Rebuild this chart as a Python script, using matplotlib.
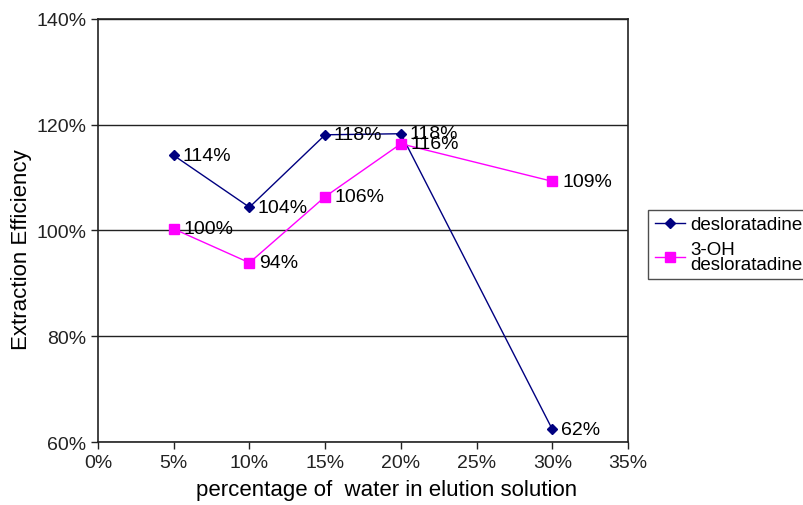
import matplotlib.pyplot as plt
from matplotlib.ticker import PercentFormatter

plt.rcParams['font.family'] = ['Liberation Sans', 'DejaVu Sans']

# water content of elution solution (%) and extraction efficiency (%)
water = [5, 10, 15, 20, 30]
deslor = [114.2, 104.4, 118.1, 118.3, 62.4]
oh_deslor = [100.3, 93.9, 106.4, 116.4, 109.3]

fig = plt.figure(figsize=(8.04, 5.06), dpi=100)
ax = fig.add_axes([0.1219, 0.1245, 0.6592, 0.836])

ax.plot(water, deslor, color='#000080', lw=1, marker='D', ms=5.5,
        label='desloratadine')
ax.plot(water, oh_deslor, color='#ff00ff', lw=1, marker='s', ms=7,
        label='3-OH\ndesloratadine')

for x, y in zip(water, deslor):
    ax.annotate('%d%%' % round(y), (x, y), xytext=(6, 0), textcoords='offset points',
                va='center', ha='left', fontsize=14)
for x, y in zip(water, oh_deslor):
    ax.annotate('%d%%' % round(y), (x, y), xytext=(7, 0), textcoords='offset points',
                va='center', ha='left', fontsize=14)

ax.set_xlim(0, 35)
ax.set_ylim(60, 140)
ax.set_xticks(range(0, 36, 5))
ax.set_yticks(range(60, 141, 20))
ax.xaxis.set_major_formatter(PercentFormatter(decimals=0))
ax.yaxis.set_major_formatter(PercentFormatter(decimals=0))
ax.tick_params(direction='out', length=5, width=1, labelsize=14, colors='#222222')
ax.grid(axis='y', color='#222222', lw=1)
for s in ax.spines.values():
    s.set_color('#222222')
    s.set_linewidth(1.2)

ax.set_xlabel('percentage of  water in elution solution', fontsize=16, labelpad=6, x=0.545)
ax.set_ylabel('Extraction Efficiency', fontsize=16, labelpad=3, y=0.456)

leg = ax.legend(loc='center left', bbox_to_anchor=(1.038, 0.467), fontsize=13.5,
                frameon=True, fancybox=False, edgecolor='#222222',
                handlelength=1.6, handletextpad=0.3, borderpad=0.35,
                labelspacing=0.4, borderaxespad=0)
leg.get_frame().set_linewidth(1)
for t in leg.get_texts():
    t.set_linespacing(0.85)

fig.savefig('out.png', dpi=100)
